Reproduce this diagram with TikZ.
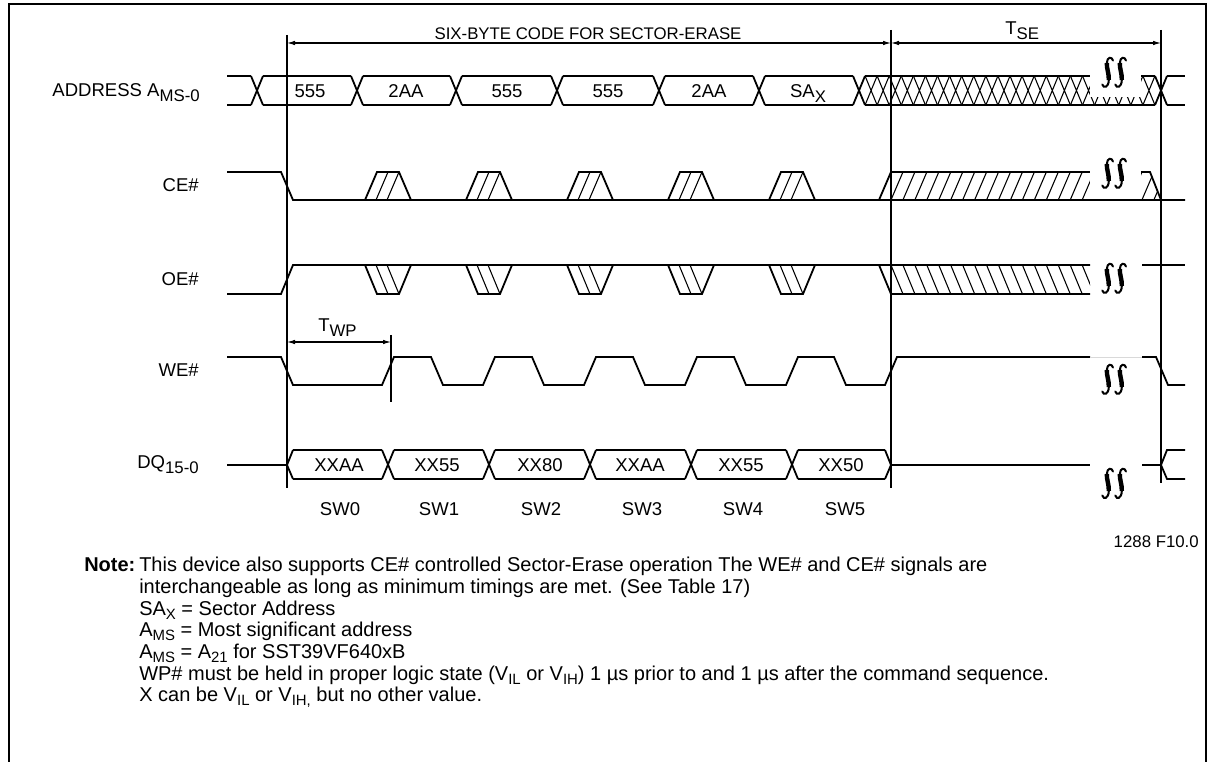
\documentclass[tikz,border=0pt]{standalone}
\usepackage{fontspec}
\setmainfont{Liberation Sans}
\usetikzlibrary{arrows.meta}
\newcommand{\dsub}[1]{\raisebox{-3.6pt}{\fontsize{12.6pt}{14pt}\selectfont #1}}
\newcommand{\nsub}[1]{\raisebox{-3.3pt}{\fontsize{11.2pt}{13pt}\selectfont #1}}
\begin{document}
\begin{tikzpicture}[x=0.75pt,y=-0.75pt,
  sig/.style={line width=1.35pt,line join=miter},
  refl/.style={line width=0.9pt},
  hat/.style={line width=0.8pt},
  txt/.style={inner sep=0pt,font=\fontsize{13.9pt}{16pt}\selectfont},
  smalltxt/.style={inner sep=0pt,font=\fontsize{12.6pt}{15pt}\selectfont},
  notetxt/.style={inner sep=0pt,anchor=base west,font=\fontsize{15pt}{17pt}\selectfont},
  dimarr/.style={line width=0.8pt,{Latex[length=6pt,width=3.4pt]}-{Latex[length=6pt,width=3.4pt]}},
  brk/.pic={
    \foreach \dx in {0,13}{
      \draw[line width=1.5pt,line cap=round] ({\dx+11},3.5) .. controls ({\dx+10},-0.5) and ({\dx+5},-0.5) .. ({\dx+4.8},6) .. controls ({\dx+4.6},12) and ({\dx+7},16) .. ({\dx+6.8},23) .. controls ({\dx+6.6},30.5) and ({\dx+1.5},32) .. ({\dx+0.3},27.5);
      \draw[line width=3.3pt] ({\dx+4.8},6) .. controls ({\dx+4.6},12) and ({\dx+7},16) .. ({\dx+6.8},23);
    }
  }
]
\useasboundingbox (0,0) rectangle (1213,762);
% frame
\draw[line width=2pt] (9,762) -- (9,4) -- (1206,4) -- (1206,762);

% reference lines
\draw[refl] (287,35) -- (287,488);
\draw[refl] (891,30) -- (891,488);
\draw[refl] (1161,30) -- (1161,483);
\draw[refl] (391,335) -- (391,402);

% dimension arrows
\coordinate (s0) at (287,43);
\coordinate (s1) at (891,43);
\coordinate (s2) at (1161,43);
\draw[dimarr] (s0) -- (s1);
\draw[dimarr] (s1) -- (s2);
\node[smalltxt,anchor=base] (six) at (588,40) {SIX-BYTE CODE FOR SECTOR-ERASE};
\node[txt,anchor=base west] (tse) at (1005,35) {T\dsub{SE}};
\coordinate (w0) at (287,342);
\coordinate (w1) at (391,342);
\draw[dimarr] (w0) -- (w1);
\node[txt,anchor=base west] (twp) at (318,332) {T\dsub{WP}};

% signal names
\node[txt,anchor=base east] (lad) at (200,97) {ADDRESS A\dsub{MS-0}};
\node[txt,anchor=base east] (lce) at (199,192) {CE\#};
\node[txt,anchor=base east] (loe) at (199,286) {OE\#};
\node[txt,anchor=base east] (lwe) at (199,377) {WE\#};
\node[txt,anchor=base east] (ldq) at (199,469) {DQ\dsub{15-0}};

% ---------------- ADDRESS ----------------
\draw[sig] (227,76) -- (251,76) (227,105) -- (251,105);
\foreach \c in {257,357,456,557,659,759,859}{
  \draw[sig] ({\c-6},76) -- ({\c+6},105) ({\c-6},105) -- ({\c+6},76);
}
\foreach \a/\b in {257/357,357/456,456/557,557/659,659/759,759/859}{
  \draw[sig] ({\a+6},76) -- ({\b-6},76) ({\a+6},105) -- ({\b-6},105);
}
\foreach \k in {1,...,24}{
  \draw[hat] ({859+12.08*\k-6},76) -- ({859+12.08*\k+6},105) ({859+12.08*\k-6},105) -- ({859+12.08*\k+6},76);
}
\draw[sig] (865,76) -- (1155,76) (865,105) -- (1155,105);
\draw[sig] (1155,76) -- (1167,105) (1155,105) -- (1167,76);
\draw[sig] (1167,76) -- (1185,76) (1167,105) -- (1185,105);
\fill[white] (1090,66) rectangle (1141,97.5);
\node[txt,anchor=base] (a1) at (310,98) {555};
\node[txt,anchor=base] (a2) at (406,98) {2AA};
\node[txt,anchor=base] (a3) at (507,98) {555};
\node[txt,anchor=base] (a4) at (608,98) {555};
\node[txt,anchor=base] (a5) at (709,98) {2AA};
\node[txt,anchor=base] (a6) at (808,98) {SA\dsub{X}};

% ---------------- CE# ----------------
\foreach \r in {388,489,590,691,792}{
  \draw[sig] ({\r-23},200) -- ({\r-11},172) -- ({\r+11},172) -- ({\r+23},200);
  \draw[hat] ({\r-12},200) -- (\r,172) ({\r-1},200) -- ({\r+11},172);
}
\begin{scope}
  \clip (879,200) -- (891,172) -- (1150,172) -- (1161,200) -- cycle;
  \foreach \k in {1,...,23}{
    \draw[hat] ({879+11.95*\k},200) -- ({891+11.95*\k},172);
  }
\end{scope}
\draw[sig] (879,200) -- (891,172) -- (1150,172) -- (1161,200);
\fill[white] (1090,150) rectangle (1141,199);
\draw[sig] (227,172) -- (281,172) -- (293,200) -- (1185,200);

% ---------------- OE# ----------------
\foreach \r in {388,489,590,691,792}{
  \draw[sig] ({\r-23},265) -- ({\r-11},294) -- ({\r+11},294) -- ({\r+23},265);
  \draw[hat] ({\r-12},265) -- (\r,294) ({\r-1},265) -- ({\r+11},294);
}
\begin{scope}
  \clip (879,265) -- (891,294) -- (1090,294) -- (1090,265) -- cycle;
  \foreach \k in {1,...,18}{
    \draw[hat] ({879+11.95*\k},265) -- ({891+11.95*\k},294);
  }
\end{scope}
\draw[sig] (879,265) -- (891,294) -- (1090,294);
\draw[sig] (227,294) -- (281,294) -- (293,265) -- (1090,265);
\draw[sig] (1142,265) -- (1185,265);

% ---------------- WE# ----------------
\draw[sig] (227,357) -- (281,357) -- (293,385) -- (382,385) -- (394,357)
  -- (431,357) -- (443,385) -- (483,385) -- (495,357)
  -- (532,357) -- (544,385) -- (584,385) -- (596,357)
  -- (633,357) -- (645,385) -- (685,385) -- (697,357)
  -- (734,357) -- (746,385) -- (786,385) -- (798,357)
  -- (834,357) -- (846,385) -- (885,385) -- (897,357) -- (1090,357);
\draw[gray!30,line width=0.6pt] (1090,357) -- (1142,357);
\draw[sig] (1142,357) -- (1156,357) -- (1168,385) -- (1185,385);

% ---------------- DQ ----------------
\draw[sig] (227,465) -- (287,465);
\draw[sig] (293,450) -- (287,465) -- (293,479);
\foreach \d in {388,489,590,691,792}{
  \draw[sig] ({\d-6},450) -- ({\d+6},479) ({\d-6},479) -- ({\d+6},450);
}
\foreach \a/\b in {287/388,388/489,489/590,590/691,691/792,792/891}{
  \draw[sig] ({\a+6},450) -- ({\b-6},450) ({\a+6},479) -- ({\b-6},479);
}
\draw[sig] (885,450) -- (891,465) -- (885,479);
\draw[sig] (891,465) -- (1090,465);
\draw[sig] (1142,465) -- (1161,465);
\draw[sig] (1185,450) -- (1167,450) -- (1161,465) -- (1167,479) -- (1185,479);
\node[txt,anchor=base] (d1) at (339,471) {XXAA};
\node[txt,anchor=base] (d2) at (437,471) {XX55};
\node[txt,anchor=base] (d3) at (540,471) {XX80};
\node[txt,anchor=base] (d4) at (640,471) {XXAA};
\node[txt,anchor=base] (d5) at (741,471) {XX55};
\node[txt,anchor=base] (d6) at (841,471) {XX50};

% step labels
\node[txt,anchor=base] (sw0) at (340,515) {SW0};
\node[txt,anchor=base] (sw1) at (439,515) {SW1};
\node[txt,anchor=base] (sw2) at (541,515) {SW2};
\node[txt,anchor=base] (sw3) at (642,515) {SW3};
\node[txt,anchor=base] (sw4) at (743,515) {SW4};
\node[txt,anchor=base] (sw5) at (845,515) {SW5};

% break symbols
\pic at (1102,57) {brk};
\pic at (1102,158) {brk};
\pic at (1102,263) {brk};
\pic at (1102,364) {brk};
\pic at (1102,468) {brk};

% figure number
\node[smalltxt,anchor=base east] (fig) at (1199,547) {1288 F10.0};

% notes
\node[notetxt] (n0) at (84,571) {\textbf{Note:}};
\node[notetxt] (n1) at (139,571) {This device also supports CE\# controlled Sector-Erase operation The WE\# and CE\# signals are};
\node[notetxt] (n2) at (139,593) {interchangeable as long as minimum timings are met. (See Table 17)};
\node[notetxt] (n3) at (139,615) {SA\nsub{X} = Sector Address};
\node[notetxt] (n4) at (139,636) {A\nsub{MS} = Most significant address};
\node[notetxt] (n5) at (139,658) {A\nsub{MS} = A\nsub{21} for SST39VF640xB};
\node[notetxt] (n6) at (139,680) {WP\# must be held in proper logic state (V\nsub{IL} or V\nsub{IH}) 1 µs prior to and 1 µs after the command sequence.};
\node[notetxt] (n7) at (139,701) {X can be V\nsub{IL} or V\nsub{IH,} but no other value.};
\end{tikzpicture}
\end{document}
